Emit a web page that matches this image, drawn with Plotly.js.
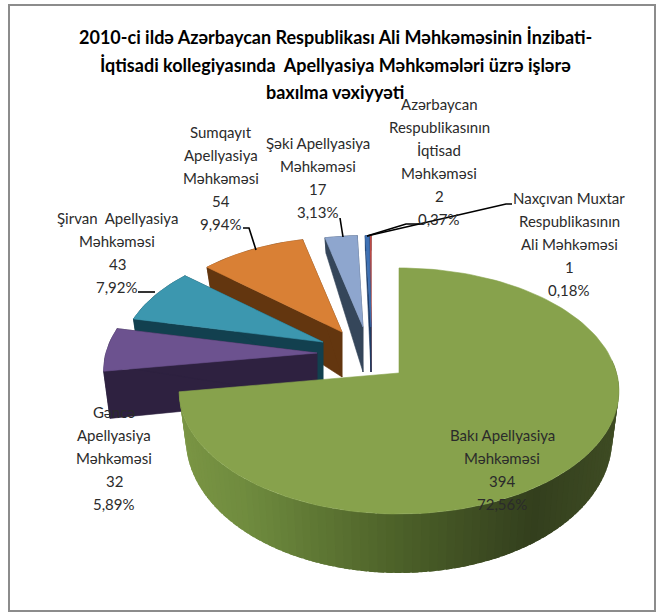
<!DOCTYPE html>
<html>
<head>
<meta charset="utf-8">
<script src="https://cdn.plot.ly/plotly-3.0.1.min.js"></script>
<style>html,body{margin:0;padding:0;background:#fff}#c{width:665px;height:613px}</style>
</head>
<body>
<div id="c"></div>
<script>
// ---- data ----
const categories = ["Bakı Apellyasiya Məhkəməsi","Gəncə Apellyasiya Məhkəməsi","Şirvan  Apellyasiya Məhkəməsi","Sumqayıt Apellyasiya Məhkəməsi","Şəki Apellyasiya Məhkəməsi","Azərbaycan Respublikasının İqtisad Məhkəməsi","Naxçıvan Muxtar Respublikasının Ali Məhkəməsi"];
const caseCounts = [394,32,43,54,17,2,1];
const titleLines = ["2010-ci ildə Azərbaycan Respublikası Ali Məhkəməsinin İnzibati-","İqtisadi kollegiyasında  Apellyasiya Məhkəmələri üzrə işlərə","baxılma vəxiyyəti"];
const labelLines = [
  ["Bakı Apellyasiya","Məhkəməsi"],
  ["Gəncə","Apellyasiya","Məhkəməsi"],
  ["Şirvan  Apellyasiya","Məhkəməsi"],
  ["Sumqayıt","Apellyasiya","Məhkəməsi"],
  ["Şəki Apellyasiya","Məhkəməsi"],
  ["Azərbaycan","Respublikasının","İqtisad","Məhkəməsi"],
  ["Naxçıvan Muxtar","Respublikasının","Ali Məhkəməsi"]
];
// ---- styling and layout of the exploded slices ----
const topColors  = ["#87a24c","#6c528f","#3c97af","#d98035","#8ea6ce","#3f72b5","#bd4a47"];
const sideColors = ["#4d6229","#2e2140","#12404f","#63360f","#35465a","#1f3d66","#7a2220"];
const apexX = [399,317,323,342,363,371,371];
const apexY = [373,353,342,332,327,327,327];
const radiusScale = [1,.97,.92,.9,.87,.87,.87];
const labelX = [502,114,117,221,318,439,569];
const labelY = [435,412,218,132,143,104,198];
const lineStep = 23;
const leaders = [
  {x:[243,249,256],y:[228,228,250]},
  {x:[138,155],y:[292,292]},
  {x:[340,343],y:[218,237]},
  {x:[367,406,421],y:[236,224,224]},
  {x:[367,506,512],y:[236,204,204]}
];
const A = 217.6, B = 120.4, K = 0.146;

const total = caseCounts.reduce((a,b)=>a+b,0);
const pct = v => (v/total*100).toFixed(2).replace('.',',')+'%';

function project(i,deg,r,lower){
  const t = deg*Math.PI/180, u = Math.sin(t)*r, v = Math.cos(t)*r;
  const w = 1+K*v, s = radiusScale[i];
  let dx = A*u/w*s, dy = -B*v/w*s, y0 = apexY[i];
  if(lower){
    const d = v>=0 ? 45-30*v : 45-14*v;
    dx *= .97; y0 += d;
  }
  return [apexX[i]+dx, y0+dy];
}
function poly(pts,color,noLine){
  return {type:'scatter',mode:'lines',x:pts.map(p=>p[0]).concat(pts[0][0]),y:pts.map(p=>p[1]).concat(pts[0][1]),
    fill:'toself',fillcolor:color,line:{color:color,width:noLine?0:.6},hoverinfo:'skip',showlegend:false};
}
function mix(a,b,t){
  const p=c=>[1,3,5].map(k=>parseInt(c.substr(k,2),16));
  const x=p(a),y=p(b);
  return 'rgb('+x.map((q,k)=>Math.round(q+(y[k]-q)*t)).join(',')+')';
}
function greenSide(x){
  const stops=[[181,'#7a9544'],[250,'#6f8b3e'],[400,'#4d6229'],[540,'#333f1d'],[618,'#3e4b23']];
  for(let k=1;k<stops.length;k++) if(x<=stops[k][0])
    return mix(stops[k-1][1],stops[k][1],Math.max(0,(x-stops[k-1][0])/(stops[k][0]-stops[k-1][0])));
  return stops[stops.length-1][1];
}
// slice start/end angles, clockwise from 12 o'clock
const starts=[], ends=[];
caseCounts.reduce((acc,v,i)=>{starts[i]=acc;ends[i]=acc+v/total*360;return ends[i];},0);

const traces=[];
const drawOrder=[6,5,4,3,2,1,0];
drawOrder.forEach(i=>{
  const a=starts[i], b=ends[i], n=Math.max(2,Math.ceil((b-a)/2));
  const ang=k=>a+(b-a)*k/n;
  if(i===0){
    // outer wall with a horizontal shading, in overlapping strips painted from the far ends
    for(let k=n-1;k>=0;k--){
      if(ang(k+1)<85) continue;
      const hi=Math.min(b,ang(k+1)+1.5);
      const p=[project(i,ang(k),1),project(i,hi,1),project(i,hi,1,true),project(i,ang(k),1,true)];
      traces.push(poly(p,greenSide(project(i,(ang(k)+ang(k+1))/2,1)[0]),true));
    }
  } else {
    const outer=[],inner=[];
    for(let k=0;k<=n;k++){outer.push(project(i,ang(k),1));inner.push(project(i,ang(k),1,true));}
    traces.push(poly(outer.concat(inner.reverse()),sideColors[i]));
    [a,b].forEach(e=>{
      traces.push(poly([project(i,e,0),project(i,e,1),project(i,e,1,true),project(i,e,0,true)],sideColors[i]));
    });
  }
  const top=[project(i,a,0)];
  for(let k=0;k<=n;k++) top.push(project(i,ang(k),1));
  traces.push(poly(top,topColors[i]));
});
leaders.forEach(l=>traces.push({type:'scatter',mode:'lines',x:l.x,y:l.y,line:{color:'#000',width:1.6},hoverinfo:'skip',showlegend:false}));

const annotations=[];
const addText=(text,x,y,size,color,bold)=>annotations.push({text:bold?'<b>'+text+'</b>':text,x,y,xref:'x',yref:'y',xanchor:'center',yanchor:'middle',showarrow:false,font:{family:'Lato, "Open Sans", sans-serif',size,color}});
[37,65,92].forEach((y,i)=>addText(titleLines[i],335,y,18,'#000',true));
categories.forEach((c,i)=>{
  const lines=labelLines[i].concat([String(caseCounts[i]),pct(caseCounts[i])]);
  lines.forEach((t,k)=>addText(t,labelX[i],labelY[i]+k*lineStep,15,'#2b2b2b',false));
});

const hidden={visible:false,fixedrange:true};
Plotly.newPlot('c',traces,{
  width:665,height:613,margin:{l:0,r:0,t:0,b:0},
  paper_bgcolor:'#fff',plot_bgcolor:'#fff',showlegend:false,
  xaxis:Object.assign({range:[0,665]},hidden),
  yaxis:Object.assign({range:[613,0]},hidden),
  shapes:[{type:'rect',xref:'x',yref:'y',x0:9,x1:655,y0:5,y1:611,line:{color:'#8c8c8c',width:2},fillcolor:'rgba(0,0,0,0)'}],
  annotations
},{displayModeBar:false,staticPlot:true});
</script>
</body>
</html>
